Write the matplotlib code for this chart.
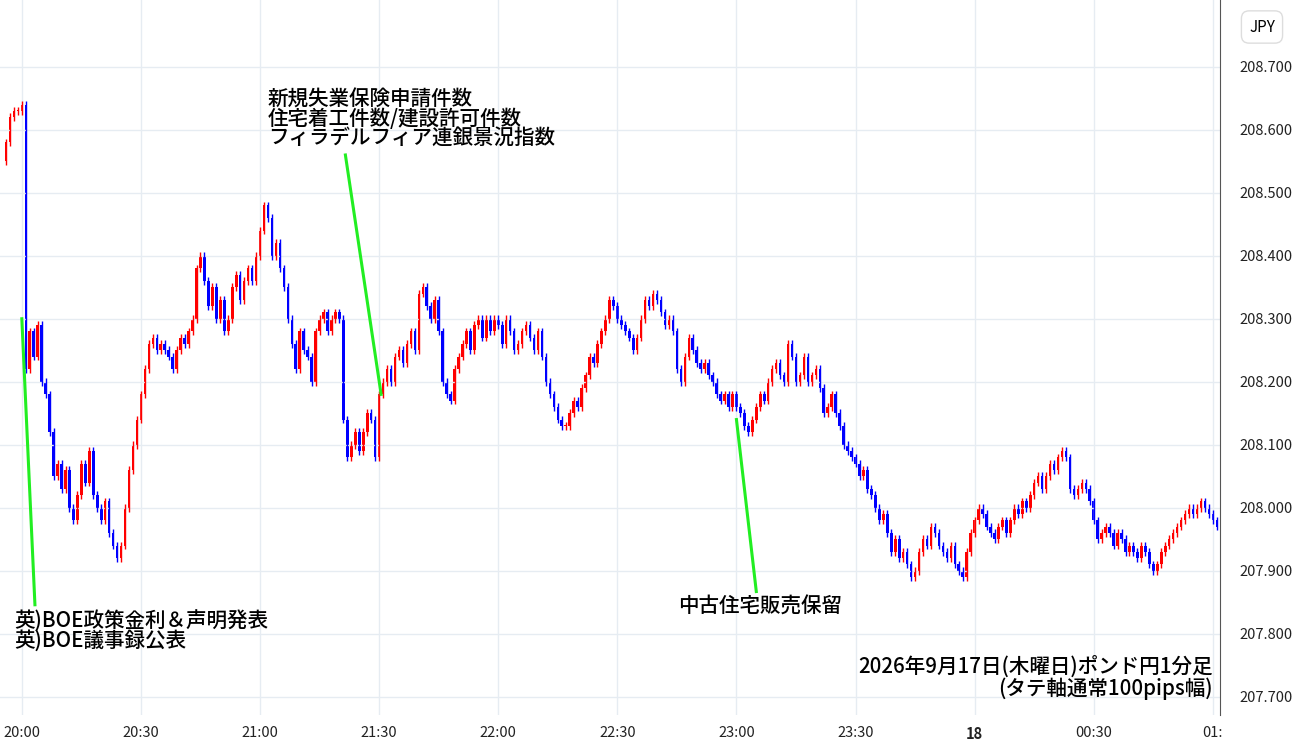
import numpy as np
import matplotlib
matplotlib.use("Agg")
import matplotlib.pyplot as plt

plt.rcParams['font.family'] = ['Noto Sans CJK JP', 'DejaVu Sans']

# --------- データ（1分足終値、分 = 20:00からの経過） ---------
start_minute = -4
first_open = 208.55
closes = [
    208.58, 208.62, 208.63, 208.63, 208.64, 208.22, 208.28, 208.24, 208.29, 208.20,
    208.18, 208.12, 208.05, 208.07, 208.03, 208.06, 208.00, 207.98, 208.02, 208.07,
    208.04, 208.09, 208.02, 208.00, 207.98, 208.01, 207.96, 207.94, 207.92, 207.94,
    208.00, 208.06, 208.10, 208.14, 208.18, 208.22, 208.26, 208.27, 208.25, 208.26,
    208.25, 208.24, 208.22, 208.25, 208.27, 208.26, 208.28, 208.30, 208.38, 208.40,
    208.36, 208.32, 208.35, 208.30, 208.33, 208.28, 208.30, 208.35, 208.37, 208.33,
    208.36, 208.38, 208.36, 208.40, 208.44, 208.48, 208.46, 208.40, 208.42, 208.38,
    208.35, 208.30, 208.26, 208.22, 208.28, 208.25, 208.24, 208.20, 208.28, 208.30,
    208.31, 208.28, 208.30, 208.31, 208.30, 208.14, 208.08, 208.10, 208.12, 208.09,
    208.12, 208.15, 208.14, 208.08, 208.18, 208.20, 208.22, 208.20, 208.24, 208.25,
    208.23, 208.26, 208.28, 208.25, 208.34, 208.35, 208.32, 208.30, 208.33, 208.28,
    208.20, 208.18, 208.17, 208.22, 208.24, 208.26, 208.28, 208.25, 208.29, 208.30,
    208.27, 208.30, 208.28, 208.30, 208.29, 208.26, 208.30, 208.28, 208.25, 208.26,
    208.28, 208.29, 208.27, 208.25, 208.28, 208.24, 208.20, 208.18, 208.16, 208.14,
    208.13, 208.13, 208.15, 208.17, 208.16, 208.19, 208.21, 208.24, 208.23, 208.26,
    208.28, 208.30, 208.33, 208.32, 208.30, 208.29, 208.28, 208.27, 208.25, 208.27,
    208.30, 208.33, 208.32, 208.34, 208.33, 208.31, 208.29, 208.30, 208.28, 208.22,
    208.20, 208.24, 208.27, 208.25, 208.23, 208.22, 208.23, 208.21, 208.20, 208.18,
    208.17, 208.18, 208.16, 208.18, 208.16, 208.15, 208.13, 208.12, 208.14, 208.16,
    208.18, 208.17, 208.20, 208.22, 208.23, 208.21, 208.20, 208.26, 208.24, 208.20,
    208.21, 208.24, 208.20, 208.21, 208.22, 208.19, 208.15, 208.16, 208.18, 208.15,
    208.13, 208.10, 208.09, 208.08, 208.07, 208.05, 208.06, 208.03, 208.02, 208.00,
    207.98, 207.99, 207.96, 207.93, 207.95, 207.92, 207.93, 207.91, 207.89, 207.90,
    207.93, 207.95, 207.94, 207.97, 207.96, 207.94, 207.93, 207.92, 207.94, 207.91,
    207.90, 207.89, 207.93, 207.96, 207.98, 208.00, 207.99, 207.97, 207.96, 207.95,
    207.97, 207.98, 207.96, 207.98, 208.00, 207.99, 208.01, 208.00, 208.02, 208.04,
    208.05, 208.03, 208.05, 208.07, 208.06, 208.08, 208.09, 208.08, 208.03, 208.02,
    208.03, 208.04, 208.03, 208.01, 207.98, 207.95, 207.96, 207.97, 207.96, 207.94,
    207.96, 207.95, 207.93, 207.94, 207.93, 207.92, 207.94, 207.93, 207.91, 207.90,
    207.91, 207.93, 207.94, 207.95, 207.96, 207.97, 207.98, 207.99, 208.00, 207.99,
    208.00, 208.01, 208.00, 207.99, 207.98, 207.97,
]
wick = 0.006

x_ticks = [0, 30, 60, 90, 120, 150, 180, 210, 240, 270, 300]
x_labels = ["20:00", "20:30", "21:00", "21:30", "22:00", "22:30", "23:00", "23:30", "18", "00:30", "01:"]
y_ticks = [207.7, 207.8, 207.9, 208.0, 208.1, 208.2, 208.3, 208.4, 208.5, 208.6, 208.7]

# イベント注記（テキスト, 線の下端(分,価格), 線の上端(分,価格), 文字位置）
events = [
    ("英)BOE政策金利＆声明発表\n英)BOE議事録公表", (3.3, 207.846), (0.0, 208.30), (-1.8, 207.772)),
    ("新規失業保険申請件数\n住宅着工件数/建設許可件数\nフィラデルフィア連銀景況指数", (90.5, 208.18), (81.5, 208.56), (62.0, 208.57)),
    ("中古住宅販売保留", (185.0, 207.867), (180.0, 208.14), (165.2, 207.825)),
]

# --------- 描画 ---------
closes = np.array(closes)
opens = np.concatenate([[first_open], closes[:-1]])
mins = np.arange(start_minute, start_minute + len(closes))
highs = np.maximum(opens, closes) + wick
lows = np.minimum(opens, closes) - wick
colors = np.where(closes >= opens, "#ff0000", "#0000ff")

fig = plt.figure(figsize=(13, 7.45), dpi=100)
ax = fig.add_axes([0, 30 / 745, 1220 / 1300, 715 / 745])
ax.set_xlim(-5.5, 301.8)
ax.set_ylim(207.671, 208.806)

ax.vlines(mins, lows, highs, colors=colors, linewidth=1)
body = np.maximum(np.abs(closes - opens), 0.002)
ax.bar(mins, body, bottom=np.minimum(opens, closes), width=0.65, color=colors, linewidth=0)

for txt, p0, p1, tpos in events:
    ax.plot([p0[0], p1[0]], [p0[1], p1[1]], color="#22ee22", linewidth=2.2)
    ax.text(tpos[0], tpos[1], txt, fontsize=14.8, va="bottom", ha="left",
            linespacing=0.82, fontweight="medium")

ax.text(300.0, 207.695, "2026年9月17日(木曜日)ポンド円1分足\n(タテ軸通常100pips幅)",
        fontsize=14.8, ha="right", va="bottom", linespacing=0.95, fontweight="medium")

ax.set_xticks(x_ticks)
ax.set_xticklabels(x_labels)
for lbl in ax.get_xticklabels():
    if lbl.get_text() == "18":
        lbl.set_fontweight("bold")
ax.set_yticks(y_ticks)
ax.set_yticklabels([f"{v:.3f}" for v in y_ticks])
ax.yaxis.tick_right()
ax.tick_params(axis="both", length=0, labelsize=10.5, colors="#222222")
ax.tick_params(axis="y", pad=14)
ax.tick_params(axis="x", pad=8)
ax.grid(True, color="#e6ecf2", linewidth=1)
for s in ["top", "left", "bottom"]:
    ax.spines[s].set_visible(False)
ax.spines["right"].set_color("#555555")

fig.text(1262 / 1300, 1 - 27 / 745, "JPY", fontsize=11, ha="center", va="center",
         bbox=dict(boxstyle="round,pad=0.5", fc="white", ec="#dddddd"))

fig.savefig("out.png", dpi=100)
